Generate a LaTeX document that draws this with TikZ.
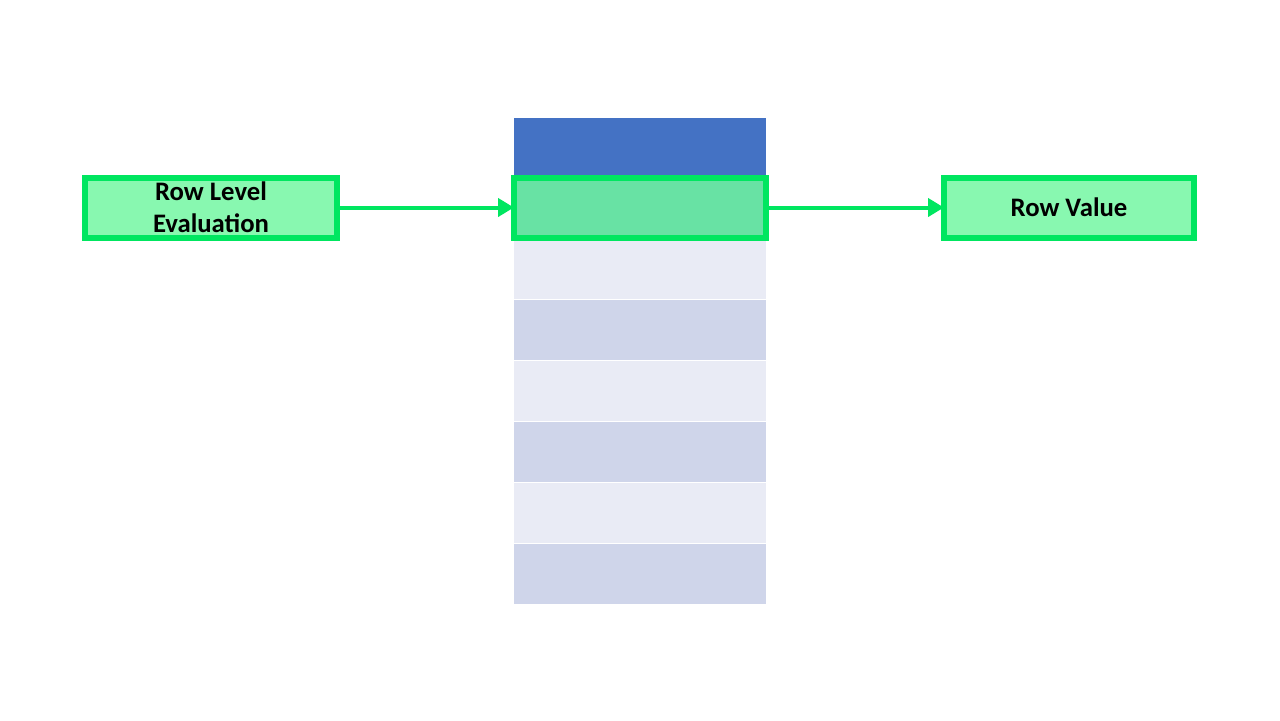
\documentclass[tikz,border=0pt]{standalone}
\usepackage{fontspec}
\setmainfont{Carlito}
\usetikzlibrary{positioning, arrows.meta}
\definecolor{headblue}{RGB}{68,114,196}
\definecolor{rowlight}{RGB}{233,235,245}
\definecolor{rowdark}{RGB}{207,213,234}
\definecolor{linegreen}{RGB}{0,230,96}
\definecolor{pickfill}{RGB}{104,226,164}
\definecolor{boxfill}{RGB}{136,248,176}
\begin{document}
\begin{tikzpicture}[node distance=0.025cm, >={Triangle[length=0.4cm, width=0.45cm]},
    cell/.style={rectangle, minimum width=6.3cm, minimum height=1.5cm, inner sep=0pt, outer sep=0pt},
    headrow/.style={cell, fill=headblue}, lightrow/.style={cell, fill=rowlight}, darkrow/.style={cell, fill=rowdark},
    picked/.style={cell, fill=pickfill, draw=linegreen, line width=0.15cm},
    labelbox/.style={picked, fill=boxfill, font=\bfseries\fontsize{19}{22.8}\selectfont, align=center}]
    \fill[white] (0,0) rectangle (32,-18);
    \useasboundingbox (0,0) rectangle (32,-18);

    \node[lightrow](row1) at (16,-5.1875){};
    \node[headrow](head)[above=0cm of row1]{};
\foreach \i/\s [count=\p from 1] in {2/lightrow, 3/darkrow, 4/lightrow, 5/darkrow, 6/lightrow, 7/darkrow}{
    \node[\s](row\i)[below of=row\p, node distance=1.525cm]{};}
    \node[picked](sel) at (row1){};
    \node[labelbox](eval)[left=4.425cm of sel]{Row Level\\Evaluation};
    \node[labelbox, minimum width=6.25cm](value)[right=4.45cm of sel]{Row Value};

\foreach \s/\t in {eval/sel, sel/value}{
    \draw[->, linegreen, line width=0.1cm] (\s) -- (\t);}
\end{tikzpicture}
\end{document}
